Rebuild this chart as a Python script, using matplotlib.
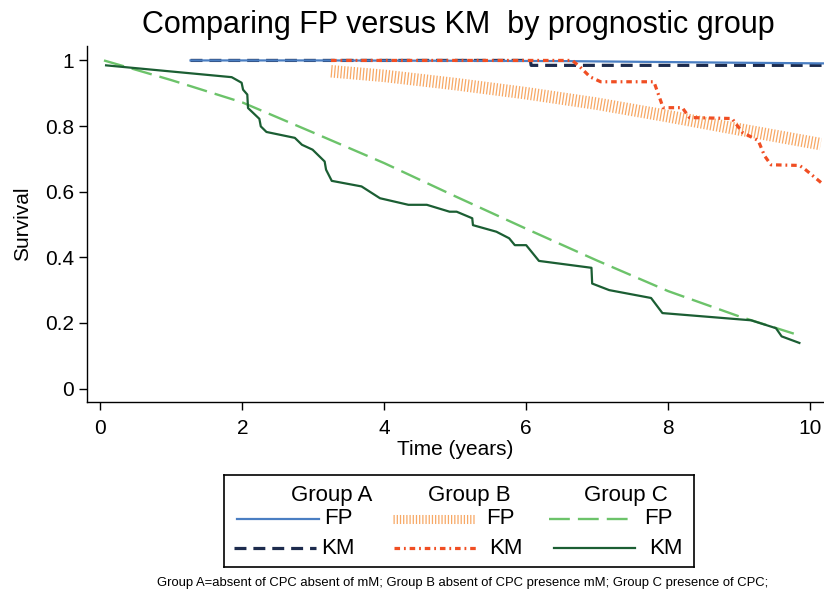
import matplotlib
matplotlib.use("Agg")
import matplotlib.pyplot as plt
from matplotlib.lines import Line2D

plt.rcParams['font.family'] = ['Liberation Sans', 'DejaVu Sans']
plt.rcParams['lines.scale_dashes'] = False

# ---------------- data ----------------
a_fp_t = [1.27, 3.0, 5.0, 6.5, 8.0, 9.0, 10.2]
a_fp_s = [1.0, 1.0, 0.999, 0.998, 0.995, 0.993, 0.991]

a_km_t = [1.27, 6.06, 6.07, 10.2]
a_km_s = [1.0, 1.0, 0.985, 0.985]

b_fp_t = [3.25, 4.0, 5.0, 6.0, 7.0, 8.0, 9.0, 10.15]
b_fp_s = [0.967, 0.953, 0.928, 0.900, 0.868, 0.830, 0.790, 0.745]

b_km_t = [3.25, 6.65, 6.75, 6.9, 7.05, 7.8, 7.93, 8.2, 8.3, 8.9, 9.05, 9.27, 9.36, 9.45, 9.85, 9.92, 10.16]
b_km_s = [1.0, 1.0, 0.982, 0.95, 0.935, 0.935, 0.856, 0.856, 0.826, 0.823, 0.78, 0.756, 0.709, 0.682, 0.68, 0.67, 0.627]

c_fp_t = [0.05, 1.0, 2.0, 3.0, 4.0, 5.0, 6.0, 7.0, 8.0, 9.0, 9.85]
c_fp_s = [1.0, 0.94, 0.872, 0.78, 0.687, 0.586, 0.487, 0.39, 0.297, 0.22, 0.162]

c_km_t = [0.08, 1.85, 1.99, 2.01, 2.07, 2.08, 2.24, 2.26, 2.34, 2.74, 2.84, 2.99, 3.16, 3.18, 3.26,
          3.68, 3.94, 4.34, 4.6, 4.92, 5.02, 5.24, 5.25, 5.58, 5.76, 5.84, 6.0, 6.18, 6.92, 6.93,
          7.17, 7.76, 7.92, 9.17, 9.52, 9.6, 9.85]
c_km_s = [0.985, 0.949, 0.932, 0.911, 0.896, 0.855, 0.822, 0.799, 0.782, 0.764, 0.743, 0.728, 0.692, 0.667, 0.633,
          0.616, 0.58, 0.56, 0.56, 0.539, 0.539, 0.519, 0.498, 0.478, 0.458, 0.437, 0.437, 0.389, 0.368, 0.320,
          0.300, 0.276, 0.230, 0.208, 0.184, 0.159, 0.139]

x_ticks = [0, 2, 4, 6, 8, 10]
y_ticks = [0, 0.2, 0.4, 0.6, 0.8, 1.0]
y_tick_labels = ['0', '0.2', '0.4', '0.6', '0.8', '1']

group_names = ['Group A', 'Group B', 'Group C']
title = 'Comparing FP versus KM  by prognostic group'
footnote = 'Group A=absent of CPC absent of mM; Group B absent of CPC presence mM; Group C presence of CPC;'

# ---------------- styles ----------------
C_BLUE = '#4a7ec2'
C_NAVY = '#1d2b4d'
C_ORANGE = '#f7a865'
C_RED = '#f04e23'
C_LGREEN = '#6cc36a'
C_DGREEN = '#1b5e33'

st_a_fp = dict(color=C_BLUE, lw=1.6, linestyle='-')
st_a_km = dict(color=C_NAVY, lw=2.3, linestyle=(0, (8.6, 5.0)))
st_b_fp = dict(color=C_ORANGE, lw=9.0, linestyle=(0, (0.9, 1.4)), dash_capstyle='butt')
st_b_km = dict(color=C_RED, lw=2.3, linestyle=(0, (4.0, 2.8, 1.3, 2.8)))
st_c_fp = dict(color=C_LGREEN, lw=1.7, linestyle=(0, (15.0, 5.8)))
st_c_km = dict(color=C_DGREEN, lw=1.6, linestyle='-')

W, H = 824, 593
fig = plt.figure(figsize=(W / 100, H / 100), dpi=100)

ax = fig.add_axes([87 / W, 1 - 402 / H, (824 - 87) / W, (402 - 46) / H])
ax.plot(a_fp_t, a_fp_s, **st_a_fp, zorder=3)
ax.plot(a_km_t, a_km_s, **st_a_km, zorder=2)
ax.plot(b_fp_t, b_fp_s, **st_b_fp, zorder=1)
ax.plot(b_km_t, b_km_s, **st_b_km, zorder=4)
ax.plot(c_fp_t, c_fp_s, **st_c_fp, zorder=2)
ax.plot(c_km_t, c_km_s, **st_c_km, zorder=3)

ax.set_xlim(-0.189, 10.197)
ax.set_ylim(-0.041, 1.044)
ax.spines['top'].set_visible(False)
ax.spines['right'].set_visible(False)
for s in ('left', 'bottom'):
    ax.spines[s].set_linewidth(1.0)
ax.set_xticks(x_ticks)
ax.set_yticks(y_ticks)
ax.set_yticklabels(y_tick_labels)
ax.tick_params(axis='both', labelsize=15, length=5.5, width=1.0, pad=4)
ax.tick_params(axis='x', pad=7)
ax.set_xlabel('Time (years)', fontsize=15, labelpad=1)
ax.set_ylabel('Survival', fontsize=15, labelpad=9)

fig.text(458.5 / W, 1 - 25 / H, title, fontsize=22, ha='center', va='center')
fig.text(463 / W, 1 - 583 / H, footnote, fontsize=9.4, ha='center', va='center')

# ---------------- legend box ----------------
lg = fig.add_axes([224 / W, 1 - 567 / H, (694 - 224) / W, (567 - 475) / H])
lg.set_xlim(224, 694)
lg.set_ylim(567, 475)
lg.set_xticks([])
lg.set_yticks([])
for s in lg.spines.values():
    s.set_linewidth(1.2)
    s.set_color('black')

header_x = [291, 428, 584]
for gx, name in zip(header_x, group_names):
    lg.text(gx, 495, name, fontsize=16, ha='left', va='center')

entries = [
    (st_a_fp, 237, 319, 519, 324, 'FP'),
    (st_a_km, 234, 316, 548, 321, 'KM'),
    (st_b_fp, 393, 476, 519, 486, 'FP'),
    (st_b_km, 394, 476, 548, 489, 'KM'),
    (st_c_fp, 549, 632, 519, 644, 'FP'),
    (st_c_km, 554, 635, 548, 649, 'KM'),
]
for st, x0, x1, y, tx, lab in entries:
    st2 = dict(st)
    if st2['lw'] > 5:
        st2['lw'] = 6.5
    lg.add_line(Line2D([x0, x1], [y, y], **st2))
    lg.text(tx, y, lab, fontsize=16, ha='left', va='center')

fig.savefig('out.png', dpi=100)
